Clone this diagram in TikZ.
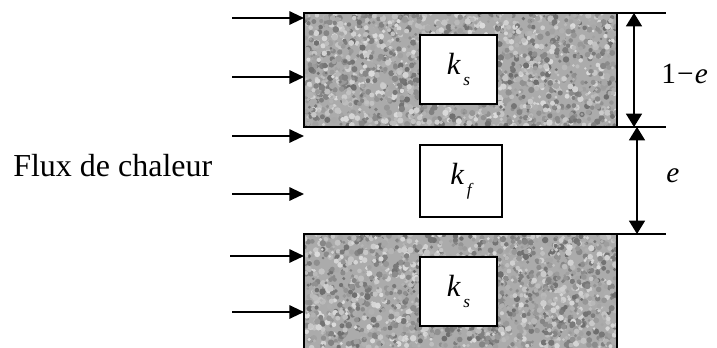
\documentclass[tikz,border=0pt]{standalone}
\usepackage{fontspec}
\setmainfont{Liberation Serif}[ItalicFont={Liberation Serif Italic},BoldFont={Liberation Serif Bold}]
\usetikzlibrary{arrows.meta}
\tikzset{
  flux/.style={line width=1.5pt,-{Triangle[length=11pt,width=10pt]}},
  dim/.style={line width=1.1pt,{Triangle[length=10pt,width=12pt]}-{Triangle[length=10pt,width=12pt]}},
  ext/.style={line width=0.9pt},
  kbox/.style={draw,line width=1pt,fill=white,inner sep=0pt,font=\fontsize{23}{23}\selectfont},
  blockedge/.style={line width=1.5pt},
}
\newcommand{\kk}[1]{{\itshape k}\hspace{0.1em}\raisebox{-0.35em}{\fontsize{13}{13}\selectfont\itshape #1}}
\begin{document}
\begin{tikzpicture}[x=0.75pt,y=-0.75pt]
\useasboundingbox (0,0) rectangle (717,347);
% block corners
\coordinate (TA) at (304,13);
\coordinate (TB) at (617,127);
\coordinate (BA) at (304,234);
\coordinate (BB) at (617,348);
% textured fills
\pgfmathsetseed{11}
\foreach \ya/\yb in {13/127,234/348}{
  \begin{scope}
    \clip (304,\ya) rectangle (617,\yb);
    \fill[black!33] (304,\ya) rectangle (617,\yb);
    \foreach \i in {1,...,2000}{
      \pgfmathsetmacro\px{304+313*rnd}
      \pgfmathsetmacro\py{\ya+(\yb-\ya)*rnd}
      \pgfmathsetmacro\g{int(14+44*rnd)}
      \pgfmathsetmacro\rr{1.3+2.0*rnd}
      \fill[black!\g] (\px,\py) circle[radius=\rr];
    }
  \end{scope}
}
\draw[blockedge] (TA) rectangle (TB);
\draw[blockedge] (304,348) -- (BA) -- (617,234) -- (BB);
% boxes
\node[kbox,minimum width=57.75pt,minimum height=51.75pt] (ks1) at (458.5,69.5) {\kk{s}};
\node[kbox,minimum width=61.5pt,minimum height=54pt] (kf) at (461,181) {\kk{f}};
\node[kbox,minimum width=57.75pt,minimum height=51.75pt] (ks2) at (458.5,291.5) {\kk{s}};
% flux arrows
\foreach \n/\xs/\y in {a/232/18,b/232/77,c/232/136,d/232/194,e/230/256,f/232/312}{
  \coordinate (s\n) at (\xs,\y);
  \coordinate (t\n) at (304,\y);
  \draw[flux] (s\n) -- (t\n);
}
\node[anchor=base west,inner sep=0pt,font=\fontsize{24}{24}\selectfont] (flux) at (13,176) {Flux de chaleur};
% extension lines
\coordinate (e1) at (666,13);
\coordinate (e2) at (666,127);
\coordinate (e3) at (666,234);
\coordinate (r1) at (617,13);
\coordinate (r2) at (617,127);
\coordinate (r3) at (617,234);
\draw[ext] (r1) -- (e1);
\draw[ext] (r2) -- (e2);
\draw[ext] (r3) -- (e3);
% dimension arrows
\coordinate (d1) at (634,13);
\coordinate (d2) at (634,127);
\coordinate (d3) at (637,127);
\coordinate (d4) at (637,234);
\draw[dim] (d1) -- (d2);
\draw[dim] (d3) -- (d4);
\node[font=\fontsize{22}{22}\selectfont,anchor=west,inner sep=0pt] (l1) at (661,74) {1\hspace{0.04em}−\hspace{0.04em}{\itshape e}};
\node[font=\fontsize{22}{22}\selectfont,anchor=west,inner sep=0pt] (l2) at (666,176) {{\itshape e}};
\end{tikzpicture}
\end{document}
